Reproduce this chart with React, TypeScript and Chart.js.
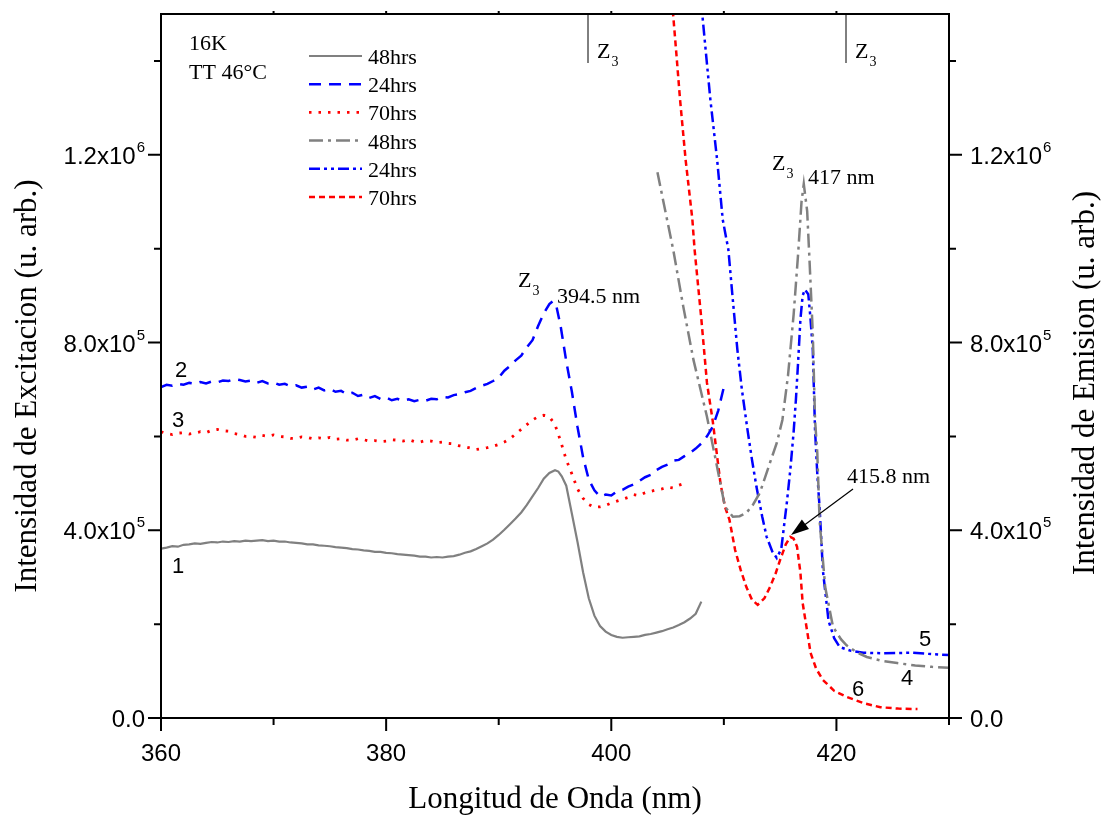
import React, { useEffect, useRef } from "react";
import { Chart, registerables } from "chart.js";

Chart.register(...registerables);

const W = 1102;
const H = 817;

// All intensities are in units of 1e5 (u. arb.)
// Excitation spectra [wavelength nm, intensity]
const excit48: number[][] = [
  [360, 3.61], [360.5, 3.63], [361, 3.66], [361.5, 3.65], [362, 3.69], [362.5, 3.7], [363, 3.72], [363.5, 3.71],
  [364, 3.73], [364.5, 3.75], [365, 3.74], [365.5, 3.76], [366, 3.75], [366.5, 3.77], [367, 3.76], [367.5, 3.78],
  [368, 3.77], [368.5, 3.78], [369, 3.79], [369.5, 3.77], [370, 3.78], [370.5, 3.76], [371, 3.76], [371.5, 3.74],
  [372, 3.73], [372.5, 3.72], [373, 3.7], [373.5, 3.7], [374, 3.68], [374.5, 3.67], [375, 3.66], [375.5, 3.64],
  [376, 3.63], [376.5, 3.62], [377, 3.6], [377.5, 3.59], [378, 3.57], [378.5, 3.56], [379, 3.54], [379.5, 3.54],
  [380, 3.52], [380.5, 3.51], [381, 3.49], [381.5, 3.48], [382, 3.47], [382.5, 3.46], [383, 3.44], [383.5, 3.44],
  [384, 3.42], [384.5, 3.43], [385, 3.42], [385.5, 3.44], [386, 3.45], [386.5, 3.48], [387, 3.52], [387.5, 3.55],
  [388, 3.6], [388.5, 3.66], [389, 3.72], [389.5, 3.8], [390, 3.9], [390.5, 4.01], [391, 4.13], [391.5, 4.25],
  [392, 4.38], [392.5, 4.54], [393, 4.72], [393.5, 4.9], [394, 5.1], [394.5, 5.22], [395, 5.28], [395.3, 5.25],
  [395.6, 5.15], [396, 4.95], [396.5, 4.35], [397, 3.75], [397.5, 3.1], [398, 2.55], [398.5, 2.18], [399, 1.96],
  [399.5, 1.84], [400, 1.77], [400.5, 1.73], [401, 1.71], [401.5, 1.72], [402, 1.73], [402.5, 1.74], [403, 1.77],
  [403.5, 1.79], [404, 1.82], [404.5, 1.85], [405, 1.89], [405.5, 1.93], [406, 1.98], [406.5, 2.04], [407, 2.12],
  [407.5, 2.22], [408, 2.48],
];

const excit24: number[][] = [
  [360, 7.05], [360.5, 7.1], [361, 7.08], [361.5, 7.12], [362, 7.1], [362.5, 7.14], [363, 7.12], [363.5, 7.16],
  [364, 7.13], [364.5, 7.17], [365, 7.15], [365.5, 7.19], [366, 7.18], [366.5, 7.22], [367, 7.2], [367.5, 7.17],
  [368, 7.19], [368.5, 7.14], [369, 7.18], [369.5, 7.13], [370, 7.15], [370.5, 7.1], [371, 7.12], [371.5, 7.07],
  [372, 7.09], [372.5, 7.04], [373, 7.06], [373.5, 7.0], [374, 7.04], [374.5, 6.98], [375, 7.01], [375.5, 6.95],
  [376, 6.97], [376.5, 6.9], [377, 6.93], [377.5, 6.86], [378, 6.89], [378.5, 6.82], [379, 6.86], [379.5, 6.8],
  [380, 6.83], [380.5, 6.77], [381, 6.8], [381.5, 6.76], [382, 6.79], [382.5, 6.75], [383, 6.78], [383.5, 6.76],
  [384, 6.8], [384.5, 6.79], [385, 6.84], [385.5, 6.83], [386, 6.88], [386.5, 6.9], [387, 6.94], [387.5, 6.97],
  [388, 7.03], [388.5, 7.08], [389, 7.12], [389.5, 7.18], [390, 7.25], [390.5, 7.4], [391, 7.5], [391.5, 7.62],
  [392, 7.72], [392.5, 7.9], [393, 8.05], [393.5, 8.35], [394, 8.62], [394.5, 8.82], [394.8, 8.88], [395.1, 8.8],
  [395.5, 8.35], [396, 7.6], [396.5, 6.95], [397, 6.2], [397.5, 5.55], [398, 5.08], [398.5, 4.85], [399, 4.72],
  [399.5, 4.76], [400, 4.74], [400.5, 4.83], [401, 4.86], [401.5, 4.93], [402, 4.98], [402.5, 5.05], [403, 5.13],
  [403.5, 5.18], [404, 5.28], [404.5, 5.35], [405, 5.4], [405.5, 5.48], [406, 5.5], [406.5, 5.58], [407, 5.65],
  [407.5, 5.74], [408, 5.85], [408.5, 6.0], [409, 6.2], [409.5, 6.55], [410, 7.05],
];

const excit70: number[][] = [
  [360, 6.1], [360.5, 6.06], [361, 6.04], [361.5, 6.07], [362, 6.08], [362.5, 6.05], [363, 6.07], [363.5, 6.1],
  [364, 6.08], [364.5, 6.13], [365, 6.15], [365.5, 6.12], [366, 6.11], [366.5, 6.06], [367, 6.04], [367.5, 6.0],
  [368, 6.0], [368.5, 5.98], [369, 6.02], [369.5, 6.0], [370, 6.03], [370.5, 6.0], [371, 5.99], [371.5, 5.96],
  [372, 5.96], [372.5, 5.99], [373, 5.98], [373.5, 5.95], [374, 5.97], [374.5, 5.95], [375, 5.98], [375.5, 5.94],
  [376, 5.95], [376.5, 5.92], [377, 5.92], [377.5, 5.95], [378, 5.93], [378.5, 5.9], [379, 5.91], [379.5, 5.89],
  [380, 5.9], [380.5, 5.93], [381, 5.92], [381.5, 5.9], [382, 5.93], [382.5, 5.89], [383, 5.88], [383.5, 5.91],
  [384, 5.9], [384.5, 5.87], [385, 5.88], [385.5, 5.85], [386, 5.84], [386.5, 5.8], [387, 5.78], [387.5, 5.75],
  [388, 5.72], [388.5, 5.74], [389, 5.76], [389.5, 5.79], [390, 5.83], [390.5, 5.88], [391, 5.95], [391.5, 6.05],
  [392, 6.15], [392.5, 6.25], [393, 6.35], [393.5, 6.42], [394, 6.45], [394.5, 6.42], [395, 6.25], [395.5, 5.9],
  [396, 5.5], [396.5, 5.2], [397, 4.88], [397.5, 4.68], [398, 4.55], [398.5, 4.49], [399, 4.5], [399.5, 4.53],
  [400, 4.58], [400.5, 4.62], [401, 4.66], [401.5, 4.7], [402, 4.76], [402.5, 4.74], [403, 4.8], [403.5, 4.83],
  [404, 4.86], [404.5, 4.88], [405, 4.92], [405.5, 4.9], [406, 4.96], [406.5, 5.0],
];

// Emission spectra [wavelength nm, intensity]
const emis48: number[][] = [
  [404.1, 11.63], [404.8, 10.8], [405.5, 9.98], [406.4, 8.76], [407.3, 7.63], [408.5, 6.42], [409.4, 5.35],
  [410.1, 4.5], [410.8, 4.29], [411.4, 4.3], [412.0, 4.37], [412.6, 4.55], [413.2, 4.8], [414.1, 5.44],
  [414.7, 5.86], [415.2, 6.35], [415.7, 7.3], [416.2, 8.6], [416.6, 9.9], [416.9, 11.0], [417.1, 11.38],
  [417.4, 10.8], [417.6, 9.8], [417.9, 8.2], [418.1, 6.35], [418.3, 5.65], [418.5, 4.22], [419.0, 2.79],
  [419.7, 1.94], [420.4, 1.68], [420.9, 1.55], [421.8, 1.4], [422.7, 1.3], [424.0, 1.22], [425.4, 1.17],
  [427.0, 1.12], [428.5, 1.09], [430, 1.07],
];

const emis24: number[][] = [
  [407.6, 16.0], [408.1, 14.95], [408.8, 13.18], [409.4, 11.9], [409.9, 10.62], [410.4, 9.98], [410.8, 8.9],
  [411.2, 7.85], [411.6, 7.0], [412.1, 6.14], [412.5, 5.5], [412.9, 4.92], [413.4, 4.3], [413.8, 3.86],
  [414.3, 3.55], [414.7, 3.41], [415.1, 3.6], [415.3, 4.0], [415.6, 4.6], [415.9, 5.28], [416.2, 6.1],
  [416.4, 6.78], [416.6, 7.6], [416.8, 8.49], [417.0, 9.0], [417.2, 9.13], [417.5, 9.03], [417.7, 8.5],
  [417.9, 7.85], [418.1, 6.14], [418.3, 5.2], [418.5, 4.5], [418.8, 3.14], [419.3, 2.07], [419.8, 1.7],
  [420.3, 1.51], [421.3, 1.43], [422.4, 1.39], [424.0, 1.38], [426.8, 1.39], [428.5, 1.36], [430, 1.34],
];

const emis70: number[][] = [
  [405.3, 15.5], [405.5, 14.97], [405.8, 14.1], [406.1, 13.2], [406.6, 11.9], [407.2, 10.63], [407.4, 9.98],
  [408.0, 8.5], [408.5, 7.14], [409.0, 6.35], [409.7, 5.0], [410.1, 4.5], [410.5, 4.22], [411.0, 3.58],
  [411.5, 3.15], [412.0, 2.79], [412.5, 2.52], [413.0, 2.41], [413.6, 2.55], [414.1, 2.79], [414.6, 3.08],
  [415.0, 3.37], [415.5, 3.7], [415.9, 3.86], [416.2, 3.82], [416.5, 3.65], [416.8, 3.1], [417.0, 2.45],
  [417.4, 1.85], [417.7, 1.39], [418.2, 1.05], [418.8, 0.81], [419.8, 0.58], [420.9, 0.45], [422.5, 0.31],
  [423.9, 0.23], [425.5, 0.2], [427.2, 0.19],
];

const legendLabels = ["48hrs", "24hrs", "70hrs", "48hrs", "24hrs", "70hrs"];
const xMajorTicks = [360, 380, 400, 420];
const xMinorTicks = [370, 390, 410, 430];
const xTopTicks = [370, 380, 390, 400, 410, 420];
const yMajorTicks = [0, 4, 8, 12];
const yMinorTicks = [2, 6, 10, 14];
const yTickMain = ["0.0", "4.0x10", "8.0x10", "1.2x10"];
const yTickExp = ["", "5", "5", "6"];

const GRAY = "#808080";
const BLUE = "#0000ff";
const RED = "#ff0000";

const styles = [
  { color: GRAY, width: 2.2, dash: [] as number[], axis: "y" },
  { color: BLUE, width: 2.5, dash: [12, 8], axis: "y" },
  { color: RED, width: 2.8, dash: [2.5, 7], axis: "y" },
  { color: GRAY, width: 2.5, dash: [14, 5, 3, 5], axis: "y2" },
  { color: BLUE, width: 2.5, dash: [11, 4, 3, 4, 3, 4], axis: "y2" },
  { color: RED, width: 2.5, dash: [6, 4], axis: "y2" },
];

const SERIF = "'Liberation Serif', 'Times New Roman', serif";
const SANS = "'Liberation Sans', Arial, sans-serif";

function drawZ3(ctx: CanvasRenderingContext2D, x: number, y: number) {
  ctx.font = `22px ${SERIF}`;
  ctx.textAlign = "left";
  ctx.textBaseline = "alphabetic";
  ctx.fillText("Z", x, y);
  const w = ctx.measureText("Z").width;
  ctx.font = `14px ${SERIF}`;
  ctx.fillText("3", x + w + 1, y + 8);
}

const overlay = {
  id: "overlay",
  beforeDraw(chart: any) {
    const ctx = chart.ctx as CanvasRenderingContext2D;
    ctx.save();
    ctx.fillStyle = "#fff";
    ctx.fillRect(0, 0, chart.width, chart.height);
    ctx.restore();
  },
  afterDraw(chart: any) {
    const ctx = chart.ctx as CanvasRenderingContext2D;
    const { left, right, top, bottom } = chart.chartArea;
    const xs = chart.scales.x;
    const ys = chart.scales.y;
    ctx.save();
    ctx.setLineDash([]);
    ctx.strokeStyle = "#000";
    ctx.fillStyle = "#000";
    ctx.lineWidth = 2;
    ctx.strokeRect(left, top, right - left, bottom - top);

    // ticks
    ctx.beginPath();
    xMajorTicks.forEach((v) => {
      const px = xs.getPixelForValue(v);
      ctx.moveTo(px, bottom);
      ctx.lineTo(px, bottom + 13);
    });
    xMinorTicks.forEach((v) => {
      const px = xs.getPixelForValue(v);
      ctx.moveTo(px, bottom);
      ctx.lineTo(px, bottom + 7);
    });
    xTopTicks.forEach((v) => {
      const px = xs.getPixelForValue(v);
      ctx.moveTo(px, top);
      ctx.lineTo(px, top - 3);
    });
    yMajorTicks.forEach((v) => {
      const py = ys.getPixelForValue(v);
      ctx.moveTo(left, py);
      ctx.lineTo(left - 13, py);
      ctx.moveTo(right, py);
      ctx.lineTo(right + 13, py);
    });
    yMinorTicks.forEach((v) => {
      const py = ys.getPixelForValue(v);
      ctx.moveTo(left, py);
      ctx.lineTo(left - 7, py);
      ctx.moveTo(right, py);
      ctx.lineTo(right + 7, py);
    });
    ctx.stroke();

    // x tick labels
    ctx.font = `24px ${SANS}`;
    ctx.textAlign = "center";
    ctx.textBaseline = "alphabetic";
    xMajorTicks.forEach((v) => {
      ctx.fillText(String(v), xs.getPixelForValue(v), 761);
    });

    // y tick labels (left and right)
    yMajorTicks.forEach((v, i) => {
      const py = ys.getPixelForValue(v);
      ctx.font = `15px ${SANS}`;
      const ew = yTickExp[i] ? ctx.measureText(yTickExp[i]).width : 0;
      ctx.font = `24px ${SANS}`;
      const mw = ctx.measureText(yTickMain[i]).width;
      const lEnd = left - 16;
      ctx.textAlign = "left";
      const lx = lEnd - ew - (ew ? 1 : 0) - mw;
      ctx.fillText(yTickMain[i], lx, py + 9);
      const rx = right + 21;
      ctx.fillText(yTickMain[i], rx, py + 9);
      if (yTickExp[i]) {
        ctx.font = `15px ${SANS}`;
        ctx.fillText(yTickExp[i], lx + mw + 1, py - 3);
        ctx.fillText(yTickExp[i], rx + mw + 1, py - 3);
      }
    });

    // axis titles
    ctx.font = `31px ${SERIF}`;
    ctx.textAlign = "center";
    ctx.fillText("Longitud de Onda (nm)", (left + right) / 2, 808);
    ctx.save();
    ctx.translate(36, 386);
    ctx.rotate(-Math.PI / 2);
    ctx.fillText("Intensidad de Excitacion (u. arb.)", 0, 0);
    ctx.restore();
    ctx.save();
    ctx.translate(1094, 383);
    ctx.rotate(-Math.PI / 2);
    ctx.fillText("Intensidad de Emision (u. arb.)", 0, 0);
    ctx.restore();

    // conditions text
    ctx.font = `22px ${SERIF}`;
    ctx.textAlign = "left";
    ctx.fillText("16K", 189, 50);
    ctx.fillText("TT 46°C", 189, 79);

    // legend
    legendLabels.forEach((lab, i) => {
      const st = styles[i];
      const ly = 56 + 28.2 * i;
      ctx.save();
      ctx.strokeStyle = st.color;
      ctx.lineWidth = st.width;
      ctx.setLineDash(st.dash);
      ctx.beginPath();
      ctx.moveTo(309, ly);
      ctx.lineTo(362, ly);
      ctx.stroke();
      ctx.restore();
      ctx.font = `22px ${SERIF}`;
      ctx.fillText(lab, 368, ly + 8);
    });

    // Z3 markers at top
    ctx.lineWidth = 1;
    ctx.strokeStyle = "#000";
    ctx.beginPath();
    ctx.moveTo(588, top);
    ctx.lineTo(588, 63);
    ctx.moveTo(846, top);
    ctx.lineTo(846, 63);
    ctx.stroke();
    drawZ3(ctx, 597, 58);
    drawZ3(ctx, 855, 58);

    // peak annotations
    drawZ3(ctx, 518, 287);
    ctx.font = `22px ${SERIF}`;
    ctx.textAlign = "left";
    ctx.fillText("394.5 nm", 557, 303);
    drawZ3(ctx, 772, 170);
    ctx.font = `22px ${SERIF}`;
    ctx.fillText("417 nm", 808, 184);
    ctx.fillText("415.8 nm", 847, 483);

    // arrow
    const ax0 = 853, ay0 = 489, ax1 = 791, ay1 = 535;
    const ang = Math.atan2(ay1 - ay0, ax1 - ax0);
    ctx.lineWidth = 1.2;
    ctx.beginPath();
    ctx.moveTo(ax0, ay0);
    ctx.lineTo(ax1 - 10 * Math.cos(ang), ay1 - 10 * Math.sin(ang));
    ctx.stroke();
    ctx.beginPath();
    ctx.moveTo(ax1, ay1);
    ctx.lineTo(ax1 - 18 * Math.cos(ang) + 6 * Math.sin(ang), ay1 - 18 * Math.sin(ang) - 6 * Math.cos(ang));
    ctx.lineTo(ax1 - 18 * Math.cos(ang) - 6 * Math.sin(ang), ay1 - 18 * Math.sin(ang) + 6 * Math.cos(ang));
    ctx.closePath();
    ctx.fill();

    // curve numbers
    ctx.font = `22px ${SANS}`;
    ctx.textAlign = "center";
    ctx.textBaseline = "middle";
    const nums: [string, number, number][] = [
      ["1", 178, 567], ["2", 181, 371], ["3", 178, 421], ["4", 907, 679], ["5", 925, 640], ["6", 858, 690],
    ];
    nums.forEach(([t, x, y]) => ctx.fillText(t, x, y));
    ctx.restore();
  },
};

const seriesList = [excit48, excit24, excit70, emis48, emis24, emis70];

export default function App() {
  const ref = useRef<HTMLCanvasElement>(null);
  useEffect(() => {
    const chart = new Chart(ref.current as HTMLCanvasElement, {
      type: "line",
      data: {
        datasets: seriesList.map((s, i) => ({
          label: legendLabels[i],
          data: s.map(([x, y]) => ({ x, y })),
          borderColor: styles[i].color,
          borderWidth: styles[i].width,
          borderDash: styles[i].dash,
          pointRadius: 0,
          fill: false,
          tension: 0,
          yAxisID: styles[i].axis,
        })),
      },
      options: {
        responsive: false,
        devicePixelRatio: 1,
        animation: false,
        layout: { padding: { left: 161, right: W - 949, top: 14, bottom: H - 718 } },
        scales: {
          x: { type: "linear", min: 360, max: 430, display: false },
          y: { type: "linear", min: 0, max: 15, display: false },
          y2: { type: "linear", min: 0, max: 15, display: false, position: "right" },
        },
        plugins: { legend: { display: false }, tooltip: { enabled: false } },
      },
      plugins: [overlay],
    } as any);
    return () => chart.destroy();
  }, []);
  return (
    <div style={{ position: "fixed", left: 0, top: 0, width: W, height: H, background: "#fff" }}>
      <canvas ref={ref} width={W} height={H} style={{ width: W, height: H, display: "block" }} />
    </div>
  );
}
